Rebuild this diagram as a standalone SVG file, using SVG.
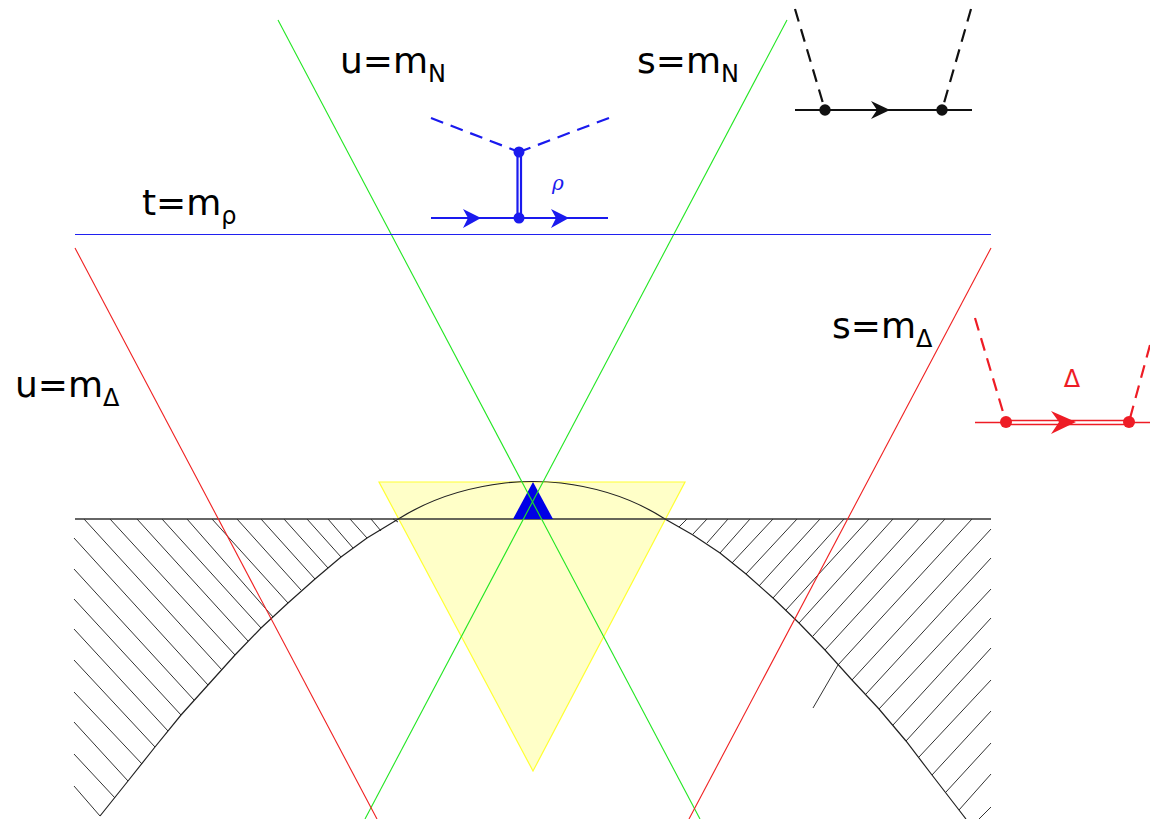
<svg xmlns="http://www.w3.org/2000/svg" width="1150" height="819" viewBox="0 0 1150 819">
<style>
.lbl{font-family:"DejaVu Sans",sans-serif;font-size:36px;fill:#000}
.sub{font-size:24px}
.thin{fill:none;stroke-width:1.1}
.hatch{fill:none;stroke:#333;stroke-width:1}
.f{fill:none;stroke-width:2.2}
.d{stroke-dasharray:13 8}
</style>
<rect width="1150" height="819" fill="#fff"/>
<g id="allowed-triangle"><polygon points="379,482 685,482 533,771" fill="#ffffc8" stroke="#ffff33" stroke-width="1.2"/></g>
<g id="boundary-hatching">
<path class="hatch" d="M74,786L100,816M74,754L115,798M74,722L128,781M74,692L142,764M74,660L155,747M74,629L168,731M74,599L181,715M74,569L194,700M74,538L208,685M84,519L222,670M110,519L235,655M137,519L248,641M162,519L261,628M187,519L273,617M212,519L288,603M237,519L301,590M261,519L315,579M284,519L328,568M307,519L341,557M328,519L353,548M350,519L367,538M371,519L381,531M393,519L398,522"/>
<path class="hatch" d="M687,519L679,527M707,519L693,534M728,519L707,543M750,519L720,553M773,519L732,563M797,519L746,574M820,519L759,586M844,519L773,598M869,519L786,610M893,519L799,623M919,519L813,636M945,519L825,650M972,519L838,665M991,529L852,680M991,558L866,694M991,589L879,709M991,618L893,725M991,648L906,741M991,680L919,757M991,711L932,775M991,743L946,792M991,774L959,810M991,807L979,819"/>
<path class="hatch" d="M838,665L813,708"/>
<path fill="none" stroke="#222" stroke-width="1.2" d="M100,816L128,781L155,747L181,715L208,685L235,655L261,628L288,603L315,579L341,557L367,538L400,518Q445,490 505,483Q533,480 561,483Q620,490 665,519L693,535L720,553L746,574L773,598L799,623L825,650L852,680L879,709L906,741L932,775L959,810L966,819"/>
<line x1="75" y1="519" x2="991" y2="519" stroke="#333" stroke-width="1.4"/>
</g>
<g id="blue-triangle"><polygon points="513,519 553,519 533,482" fill="#0000e6"/></g>
<g id="connectors">
<line class="thin" x1="278" y1="20" x2="700" y2="819" stroke="#22e622"/>
<line class="thin" x1="787" y1="20" x2="365" y2="819" stroke="#22e622"/>
<line class="thin" x1="75" y1="248" x2="377" y2="819" stroke="#f02020"/>
<line class="thin" x1="991" y1="248" x2="689" y2="819" stroke="#f02020"/>
<line class="thin" x1="75" y1="234.5" x2="991" y2="234.5" stroke="#2020f0"/>
</g>
<g id="labels">
<text class="lbl" x="340" y="73">u=m<tspan class="sub" dy="9">N</tspan></text>
<text class="lbl" x="637" y="73">s=m<tspan class="sub" dy="9">N</tspan></text>
<text class="lbl" x="142" y="215">t=m<tspan class="sub" dy="9">ρ</tspan></text>
<text class="lbl" x="832" y="338">s=m<tspan class="sub" dy="9">Δ</tspan></text>
<text class="lbl" x="15" y="397">u=m<tspan class="sub" dy="9">Δ</tspan></text>
</g>
<g id="diagram-t" stroke="#1a1aee" fill="#1a1aee">
<path class="f d" d="M431,118L519,152M609,118L519,152"/>
<path class="f" stroke-width="1.5" d="M517.5,152V218M521,152V218"/>
<path class="f" d="M431,218H608"/>
<circle cx="519" cy="152" r="5.5" stroke="none"/>
<circle cx="519" cy="218" r="5.5" stroke="none"/>
<path stroke="none" d="M481,218L463,209L468,218L463,228ZM569,218L551,209L556,218L551,228Z"/>
<text x="552" y="190" stroke="none" font-family="'DejaVu Serif',serif" font-style="italic" font-size="20">ρ</text>
</g>
<g id="diagram-s" stroke="#111" fill="#111">
<path class="f d" d="M795,9L825,110M971,9L942,110"/>
<path class="f" d="M795,110H972"/>
<circle cx="825" cy="110" r="5.7" stroke="none"/>
<circle cx="942" cy="110" r="5.7" stroke="none"/>
<path stroke="none" d="M890,110L871,101L877,110L871,119Z"/>
</g>
<g id="diagram-delta" stroke="#ee1c25" fill="#ee1c25">
<path class="f d" d="M975,318L1006,422M1150,345L1129,422"/>
<path fill="none" stroke-width="1.5" d="M975,422.5H1006M1129,422.5H1150M1006,420.5H1129M1006,424.5H1129"/>
<circle cx="1006" cy="422" r="6" stroke="none"/>
<circle cx="1129" cy="422" r="6" stroke="none"/>
<path stroke="none" d="M1076,422L1051,411L1059,422L1051,434Z"/>
<text x="1072" y="387" stroke="none" text-anchor="middle" font-family="'DejaVu Sans',sans-serif" font-size="24">Δ</text>
</g>
</svg>
